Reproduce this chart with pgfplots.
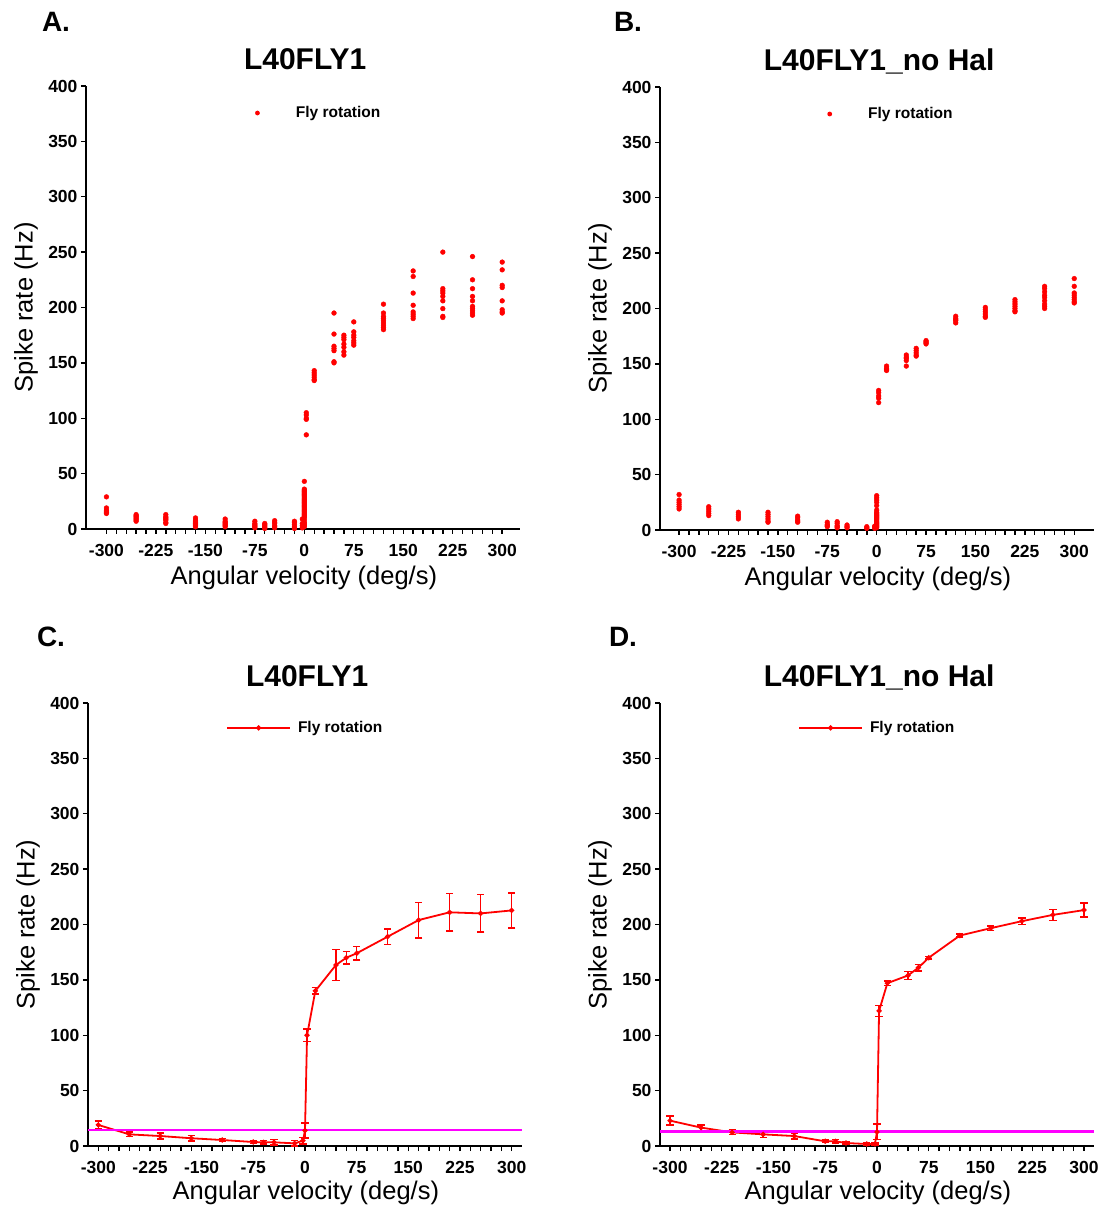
\documentclass[border=0pt]{standalone}
\usepackage{fontspec}
\setmainfont{Liberation Sans}
\usepackage{pgfplots}
\pgfplotsset{compat=1.18}
\definecolor{mag}{RGB}{255,0,255}
\definecolor{pred}{RGB}{255,0,0}

\pgfplotsset{
 panel/.style={
  scale only axis, width=434pt, height=443pt,
  axis x line*=bottom, axis y line*=left,
  axis line style={line width=1.6pt, -},
  ymin=0, ymax=400, ytick={0,50,...,400},
  xtick={-300,-225,...,300}, minor xtick={-285,-270,...,285},
  tick align=outside, major tick length=5pt, minor tick length=5pt,
  every tick/.style={line width=1.4pt, black},
  every minor tick/.style={line width=1.4pt, black},
  /pgf/number format/assume math mode=true,
  tick label style={font=\fontsize{17.5}{17.5}\selectfont\bfseries},
  xticklabel style={yshift=-7pt},
  title style={font=\fontsize{30}{30}\selectfont\bfseries, at={(axis description cs:0.505,1.023)}, anchor=base},
  xlabel={Angular velocity (deg/s)}, ylabel={Spike rate (Hz)},
  label style={font=\fontsize{25.5}{25.5}\selectfont},
  xlabel style={at={(axis description cs:0.502,-0.111)}, anchor=center},
  ylabel style={at={(axis description cs:-0.138,0.5)}, anchor=center},
  legend style={draw=none, fill=none, font=\fontsize{15.5}{15.5}\selectfont\bfseries, anchor=west, inner sep=0pt,
    nodes={inner xsep=3pt, inner ysep=0pt}, /tikz/every odd column/.append style={column sep=4pt}},
  legend image code/.code={\draw[mark repeat=2,mark phase=2,##1] plot coordinates {(0pt,0pt) (31.5pt,0pt) (63pt,0pt)};},
  clip=false,
 },
 scat/.style={only marks, mark=*, mark size=2.4pt, pred, mark options={draw=pred, fill=pred}},
 scatleg/.style={legend image code/.code={\path[draw=none,fill=none] (0pt,0pt) -- (63pt,0pt); \path[draw=none,fill=pred] (31.5pt,0pt) circle (2.4pt);}},
 errline/.style={pred, line width=1.8pt, mark=*, mark size=1.6pt, mark options={fill=pred},
   error bars/.cd, y dir=both, y explicit,
   error bar style={line width=1.6pt, pred},
   error mark options={rotate=90, line width=1.6pt, mark size=3.6pt, pred}},
}

\pgfplotstableread{
x y
-300 29
-300 19
-300 17
-300 16
-300 15
-300 14
-255 13
-255 12
-255 11
-255 10
-255 9
-255 8
-255 7
-210 13
-210 11
-210 10
-210 9
-210 8
-210 6
-210 5
-165 10
-165 8
-165 7
-165 6
-165 5
-165 4
-165 3
-165 2
-120 9
-120 7
-120 6
-120 5
-120 4
-120 3
-120 2
-75 7
-75 5
-75 4
-75 3
-75 2
-75 1
-60 5
-60 4
-60 3
-60 2
-60 1
-60 0.5
-45 7.5
-45 6
-45 5
-45 3
-45 2
-45 1
-15 7
-15 6
-15 4
-15 2
-15 1
-15 0.5
-3 9
-3 5
-3 3
-3 1
0 43
0 36
0 35
0 34
0 33
0 32
0 31
0 30
0 29
0 28
0 27
0 26
0 25
0 24
0 23
0 22
0 21
0 20
0 19
0 18
0 17
0 16
0 15
0 14
0 13
0 12
0 11
0 10
0 8
0 6
0 5
0 4
0 3
0 2
3 105
3 103
3 100
3 99
3 85
15 143
15 141
15 139
15 137
15 135
15 134
45 195
45 176
45 165
45 163
45 161
45 151
45 150
60 175
60 173
60 171
60 167
60 164
60 160
60 157
75 187
75 178
75 175
75 173
75 170
75 168
75 166
120 203
120 195
120 192
120 190
120 188
120 186
120 184
120 182
120 180
165 233
165 228
165 213
165 202
165 196
165 194
165 192
165 190
210 250
210 217
210 215
210 213
210 210
210 206
210 199
210 192
210 191
255 246
255 225
255 217
255 210
255 206
255 201
255 199
255 197
255 195
255 193
300 241
300 234
300 220
300 218
300 206
300 198
300 196
300 195
}\dataA

\pgfplotstableread{
x y
-300 32
-300 27
-300 25
-300 23
-300 21
-300 19
-255 21
-255 19
-255 17
-255 15
-255 13
-210 16
-210 14
-210 12
-210 10
-165 16
-165 14
-165 12
-165 10
-165 8
-165 7
-120 12.5
-120 11
-120 9
-120 8
-120 7
-75 7
-75 5
-75 4
-75 3
-60 7.5
-60 6
-60 4
-60 3
-60 2
-45 4.5
-45 3
-45 2
-15 3
-15 2
-15 1.5
-3 3.5
-3 2.5
-3 1.5
0 31
0 29
0 27
0 25
0 22
0 18
0 16
0 15
0 14
0 13
0 12
0 11
0 10
0 9
0 8
0 7
0 6
0 5
0 4
0 3
0 2
3 126
3 124
3 121
3 119
3 115
15 148
15 146
15 145
15 144
45 158
45 156
45 155
45 153
45 148
60 164
60 162
60 160
60 158
60 157
75 171
75 170
75 169
75 168
120 193
120 191
120 190
120 189
120 187
165 201
165 199
165 197
165 195
165 193
165 192
210 208
210 206
210 204
210 202
210 200
210 198
210 197
255 220
255 218
255 215
255 212
255 210
255 207
255 204
255 202
255 200
300 227
300 220
300 214
300 212
300 210
300 208
300 206
300 205
}\dataB

\pgfplotstableread{
x y e
-300 19 3.8
-255 10.5 2
-210 9 2.5
-165 7 2.5
-120 5.4 1.5
-75 3.6 1.5
-60 3.3 1.5
-45 3.3 2.5
-15 2.4 2.5
-3 4.8 3
0 14 7
3 100 5.5
15 140 3
45 163.5 14
60 170 5.5
75 174 6
120 189 7
165 204 16
210 211 17
255 210 17
300 212.7 16
}\dataC

\pgfplotstableread{
x y e
-300 22.9 4
-255 16.6 2.5
-210 12.3 2
-165 10.5 3
-120 9 2.5
-75 4.2 1
-60 4.2 1.5
-45 2.7 1
-15 1.8 1
-3 1.8 1
0 12.7 7
3 122 5
15 147 2
45 154 3.5
60 161 3
75 170 1
120 190 1.5
165 196.7 2
210 203 3
255 208.7 5
300 213 6.5
}\dataD

\begin{document}
\begin{tikzpicture}
\useasboundingbox (0,0) rectangle (1101pt,1207pt);

\begin{axis}[panel, at={(86pt,678pt)}, anchor=south west, xmin=-331, xmax=327,
  title={L40FLY1}, legend style={at={(axis description cs:0.322,0.939)}}]
\addplot[scat, forget plot] table[x=x,y=y] {\dataA};
\addlegendimage{scatleg}
\addlegendentry{Fly rotation}
\end{axis}

\begin{axis}[panel, at={(660pt,677pt)}, anchor=south west, xmin=-329, xmax=330,
  title={L40FLY1\_no Hal}, legend style={at={(axis description cs:0.318,0.939)}}]
\addplot[scat, forget plot] table[x=x,y=y] {\dataB};
\addlegendimage{scatleg}
\addlegendentry{Fly rotation}
\end{axis}

\begin{axis}[panel, at={(88pt,61pt)}, anchor=south west, xmin=-315, xmax=315,
  title={L40FLY1}, xlabel style={at={(axis description cs:0.502,-0.106)}},
  legend style={at={(axis description cs:0.318,0.9436)}}]
\addplot[errline] table[x=x,y=y,y error=e] {\dataC};
\addlegendentry{Fly rotation}
\addplot[mag, line width=2.6pt, forget plot] coordinates {(-315,14.5) (315,14.5)};
\end{axis}

\begin{axis}[panel, at={(660pt,61pt)}, anchor=south west, xmin=-314.5, xmax=314.5,
  title={L40FLY1\_no Hal}, xlabel style={at={(axis description cs:0.502,-0.106)}},
  legend style={at={(axis description cs:0.318,0.9436)}}]
\addplot[errline] table[x=x,y=y,y error=e] {\dataD};
\addlegendentry{Fly rotation}
\addplot[mag, line width=2.6pt, forget plot] coordinates {(-314.5,13) (314.5,13)};
\end{axis}

\node[font=\fontsize{28}{28}\selectfont\bfseries] at (56pt,1185pt) {A.};
\node[font=\fontsize{28}{28}\selectfont\bfseries] at (628pt,1185pt) {B.};
\node[font=\fontsize{28}{28}\selectfont\bfseries] at (51pt,570pt) {C.};
\node[font=\fontsize{28}{28}\selectfont\bfseries] at (623pt,570pt) {D.};
\end{tikzpicture}
\end{document}
